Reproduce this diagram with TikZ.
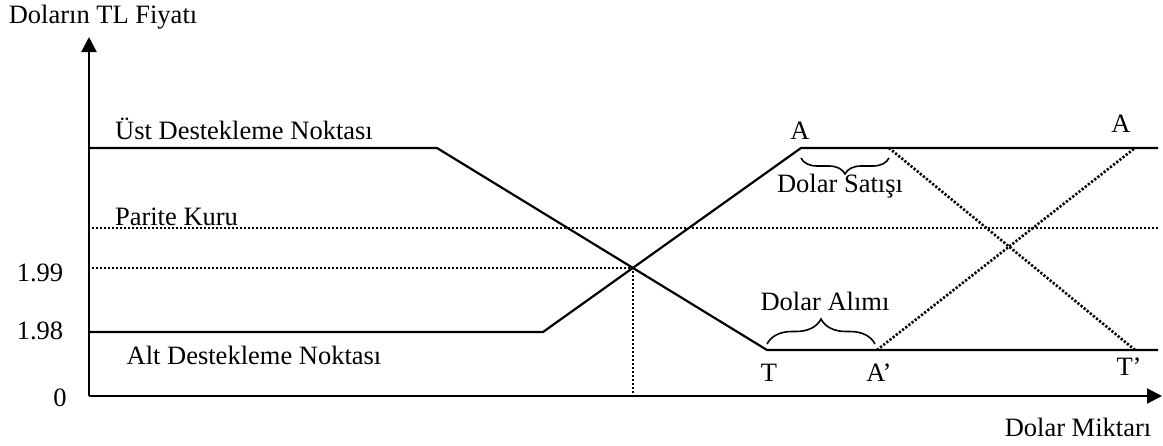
\documentclass[tikz,border=0pt]{standalone}
\usepackage{fontspec}
\setmainfont{Liberation Serif}
\usetikzlibrary{arrows.meta,decorations.pathreplacing}
\begin{document}
\begin{tikzpicture}[x=1pt,y=-1pt,
  lbl/.style={inner sep=0pt,anchor=base,font=\fontsize{26.5}{30}\selectfont},
  axis/.style={line width=2.2pt,-{Triangle[length=15pt,width=15pt]}},
  curve/.style={line width=2.2pt,line join=miter},
  dots/.style={line width=2.6pt,dash pattern=on 2.2pt off 1.8pt},
  brc/.style={line width=1.6pt,decorate,decoration={brace,amplitude=#1}}]
\useasboundingbox (0,0) rectangle (1163,445);

% axes
\coordinate (O) at (89,396);
\coordinate (Ytip) at (89,37);
\coordinate (Xtip) at (1162,396);
\draw[axis] (O) -- (Ytip);
\draw[axis] (O) -- (Xtip);

% key points
\coordinate (U0) at (89,148);
\coordinate (U1) at (437,148);
\coordinate (T) at (767,350);
\coordinate (TR) at (1158,350);
\coordinate (L0) at (89,332);
\coordinate (L1) at (543,332);
\coordinate (A) at (801,148);
\coordinate (AR) at (1158,148);
\coordinate (X) at (633,268);
\coordinate (X0) at (92,268);
\coordinate (XB) at (633,396);
\coordinate (P0) at (92,228);
\coordinate (P1) at (1158,228);
\coordinate (S) at (889,148);
\coordinate (Tp) at (1135,350);
\coordinate (Ap) at (877,350);
\coordinate (Ar) at (1135,148);

% support curves
\draw[curve] (U0) -- (U1) -- (T) -- (TR);
\draw[curve] (L0) -- (L1) -- (A) -- (AR);

% dotted guides
\draw[dots] (P0) -- (P1);
\draw[dots] (X0) -- (X) -- (XB);
\draw[dots] (S) -- (Tp);
\draw[dots] (Ap) -- (Ar);

% braces
\coordinate (SB1) at (889,158);
\coordinate (SB0) at (801,158);
\coordinate (AB0) at (767,344);
\coordinate (AB1) at (875,344);
\draw[brc=16] (SB1) -- (SB0);
\draw[brc=25] (AB0) -- (AB1);

% labels
\node[lbl] (ylab) at (103,23) {Doların TL Fiyatı};
\node[lbl] (xlab) at (1078,436) {Dolar Miktarı};
\node[lbl] (ust) at (244,139) {Üst Destekleme Noktası};
\node[lbl] (alt) at (254,364) {Alt Destekleme Noktası};
\node[lbl] (par) at (176.5,225) {Parite Kuru};
\node[lbl] (v199) at (40,281) {1.99};
\node[lbl] (v198) at (40,339) {1.98};
\node[lbl] (v0) at (60,406) {0};
\node[lbl] (la) at (800,139) {A};
\node[lbl] (lar) at (1121,132) {A};
\node[lbl] (lt) at (769,381) {T};
\node[lbl] (lap) at (879,381) {A’};
\node[lbl] (ltp) at (1129,375) {T’};
\node[lbl] (sat) at (840,192) {Dolar Satışı};
\node[lbl] (alim) at (825,310) {Dolar Alımı};
\end{tikzpicture}
\end{document}
